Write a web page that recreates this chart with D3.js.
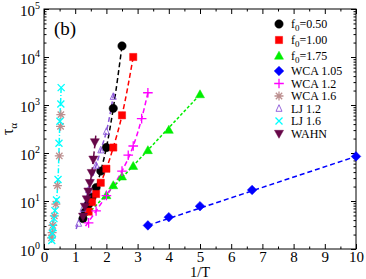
<!DOCTYPE html>
<html>
<head>
<meta charset="utf-8">
<script src="https://cdn.jsdelivr.net/npm/d3@7"></script>
<style>
body { margin: 0; background: #fff; }
svg { display: block; font-family: "Liberation Serif", "Times New Roman", serif; }
</style>
</head>
<body>
<svg id="chart" width="366" height="279"></svg>
<script>
// tick values
var xMajor = [0, 1, 2, 3, 4, 5, 6, 7, 8, 9, 10];
var xMinor = [0.5, 1.5, 2.5, 3.5, 4.5, 5.5, 6.5, 7.5, 8.5, 9.5];
var yMajor = [1, 10, 100, 1000, 10000, 100000];

// data: [1/T, tau_alpha]
var f050 = [[1.25, 4.3], [1.33, 6], [1.43, 8.5], [1.54, 12], [1.67, 19], [1.82, 42], [2.0, 130], [2.22, 850], [2.5, 17000]];
var f100 = [[1.43, 6], [1.54, 9.5], [1.67, 14], [1.82, 24], [2.0, 47], [2.22, 130], [2.5, 610], [2.86, 10000]];
var f175 = [[2.0, 13], [2.22, 21], [2.5, 32], [2.86, 53], [3.33, 113], [4.0, 300], [5.0, 1650]];
var wca105 = [[3.33, 3.1], [4.0, 4.6], [5.0, 7.8], [6.67, 17], [10, 85]];
var wca12 = [[1.43, 3.5], [1.67, 6.2], [2.0, 13], [2.5, 42], [2.7, 90], [2.86, 140], [3.13, 520], [3.33, 1800]];
var wca16 = [[0.24, 1.7], [0.26, 2.2], [0.28, 3.1], [0.33, 4.9], [0.38, 8.6], [0.43, 21], [0.49, 87], [0.53, 360], [0.54, 630]];
var lj12 = [[1.11, 3.4], [1.25, 7], [1.43, 17], [1.67, 55], [1.82, 115], [2.0, 280], [2.22, 1500]];
var lj16 = [[0.25, 1.5], [0.27, 2.1], [0.29, 2.8], [0.32, 4.3], [0.35, 6.3], [0.4, 10.5], [0.45, 28], [0.48, 160], [0.51, 460], [0.54, 1050], [0.55, 2300]];
var wahn = [[1.25, 4.8], [1.31, 7.7], [1.37, 11], [1.42, 16], [1.47, 24], [1.53, 39], [1.58, 74], [1.63, 170]];

// fitted curves (dashed lines)
var fit050 = [[1.2, 3.7], [1.43, 8.5], [1.67, 19], [1.82, 42], [2.0, 130], [2.22, 850], [2.5, 17000]];
var fit100 = [[1.38, 5.2], [1.67, 14], [1.82, 24], [2.0, 47], [2.22, 130], [2.5, 610], [2.86, 10000]];
var fit175 = [[1.3, 4.5], [5.0, 1650]];
var fit105 = [[3.33, 3.1], [10, 85]];
var fit12 = [[1.33, 3], [1.67, 6.2], [2.0, 13], [2.5, 42], [2.86, 140], [3.13, 520], [3.33, 1800]];
var fitLj12 = [[1.03, 2.6], [1.43, 17], [1.82, 115], [2.0, 280], [2.25, 2000]];
var fitLj16 = [[0.24, 1.35], [0.35, 6.3], [0.45, 28], [0.5, 300], [0.55, 2300]];
var fitWahn = [[1.22, 4.2], [1.37, 11], [1.53, 39], [1.66, 230]];

var legendLabels = ["f_0=0.50", "f_0=1.00", "f_0=1.75", "WCA 1.05", "WCA 1.2", "WCA 1.6", "LJ 1.2", "LJ 1.6", "WAHN"];

var series = [
    {pts: f050, fit: fit050, c: "#000000", s: "circle", dash: "5,3"},
    {pts: f100, fit: fit100, c: "#ff0000", s: "square", dash: "5,3"},
    {pts: f175, fit: fit175, c: "#00ee00", s: "triangle", dash: "3,2"},
    {pts: wca105, fit: fit105, c: "#0000ff", s: "diamond", dash: "5,3"},
    {pts: wca12, fit: fit12, c: "#ff00ff", s: "plus", dash: "5,3"},
    {pts: wca16, fit: null, c: "#bc8f8f", s: "star", dash: "5,3"},
    {pts: lj12, fit: fitLj12, c: "#8a55d8", s: "opentri", dash: "5,3"},
    {pts: lj16, fit: fitLj16, c: "#00ffff", s: "cross", dash: "5,2,1,2"},
    {pts: wahn, fit: fitWahn, c: "#670748", s: "tridown", dash: "5,3"}
];

var L = 44, R = 356, T = 9, B = 249;

var svg = d3.select("#chart");
var x = d3.scaleLinear().domain([0, 10]).range([L, R]);
var y = d3.scaleLog().domain([1, 100000]).range([B, T]);

function symPath(s) {
    if (s == "circle") return d3.symbol(d3.symbolCircle, 55)();
    if (s == "square") return "M-3.6,-3.6H3.6V3.6H-3.6Z";
    if (s == "triangle") return "M0,-4.8L4.5,3.2L-4.5,3.2Z";
    if (s == "opentri") return "M0,-3.8L3,2.8L-3,2.8Z";
    if (s == "tridown") return "M0,4.8L4.5,-3.2L-4.5,-3.2Z";
    if (s == "diamond") return "M0,-4.8L4.8,0L0,4.8L-4.8,0Z";
    if (s == "plus") return "M-4.8,0H4.8M0,-4.8V4.8";
    if (s == "cross") return "M-3.5,-3.5L3.5,3.5M3.5,-3.5L-3.5,3.5";
    if (s == "star") return "M-4.5,0H4.5M0,-4.5V4.5M-3.2,-3.2L3.2,3.2M3.2,-3.2L-3.2,3.2";
    return "";
}
function isFilled(s) {
    return s == "circle" || s == "square" || s == "triangle" || s == "diamond" || s == "tridown";
}
function strokeW(s) {
    if (isFilled(s)) return 0.5;
    return s == "opentri" ? 0.9 : 1.3;
}

// axes, ticks pointing inward
svg.append("g").attr("transform", "translate(0," + B + ")")
    .call(d3.axisBottom(x).tickValues(xMajor).tickSize(-5).tickPadding(2).tickFormat(d3.format("d")));
svg.append("g").attr("transform", "translate(0," + B + ")")
    .call(d3.axisBottom(x).tickValues(xMinor).tickSize(-2.5).tickFormat(""));
svg.append("g").attr("transform", "translate(0," + T + ")")
    .call(d3.axisTop(x).tickValues(xMajor).tickSize(-5).tickFormat(""));
svg.append("g").attr("transform", "translate(0," + T + ")")
    .call(d3.axisTop(x).tickValues(xMinor).tickSize(-2.5).tickFormat(""));

var yMinor = [];
for (var k = 0; k < 5; k++) {
    for (var m = 2; m < 10; m++) yMinor.push(m * Math.pow(10, k));
}

var yl = svg.append("g").attr("transform", "translate(" + L + ",0)")
    .call(d3.axisLeft(y).tickValues(yMajor).tickSize(-5).tickPadding(4).tickFormat(""));
svg.append("g").attr("transform", "translate(" + L + ",0)")
    .call(d3.axisLeft(y).tickValues(yMinor).tickSize(-2.5).tickFormat(""));
svg.append("g").attr("transform", "translate(" + R + ",0)")
    .call(d3.axisRight(y).tickValues(yMajor).tickSize(-5).tickFormat(""));
svg.append("g").attr("transform", "translate(" + R + ",0)")
    .call(d3.axisRight(y).tickValues(yMinor).tickSize(-2.5).tickFormat(""));

svg.selectAll(".domain").remove();
svg.selectAll(".tick line").attr("stroke", "#000").attr("stroke-width", 1);
svg.selectAll(".tick text").attr("font-family", "Liberation Serif, serif").attr("font-size", 15).attr("fill", "#000");

// 10^k labels
yl.selectAll(".tick text").each(function (d) {
    var t = d3.select(this).attr("dy", "0.4em");
    t.append("tspan").text("10");
    t.append("tspan").attr("font-size", 10).attr("dy", "-0.7em").text(Math.round(Math.log10(d)));
});

svg.append("rect").attr("x", L).attr("y", T).attr("width", R - L).attr("height", B - T)
    .attr("fill", "none").attr("stroke", "#000").attr("stroke-width", 1);

// fitted lines
var line = d3.line().x(function (d) { return x(d[0]); }).y(function (d) { return y(d[1]); })
    .curve(d3.curveMonotoneX);

var plot = svg.append("g");
series.forEach(function (s) {
    if (!s.fit) return;
    plot.append("path").attr("d", line(s.fit)).attr("fill", "none")
        .attr("stroke", s.c).attr("stroke-width", 1.5).attr("stroke-dasharray", s.dash);
});

// markers
series.forEach(function (s) {
    plot.selectAll(null).data(s.pts).enter().append("path")
        .attr("transform", function (d) { return "translate(" + x(d[0]) + "," + y(d[1]) + ")"; })
        .attr("d", symPath(s.s))
        .attr("fill", isFilled(s.s) ? s.c : "none")
        .attr("stroke", s.c)
        .attr("stroke-width", strokeW(s.s));
});

// legend
var legY = [24, 40, 56, 71, 83.5, 96, 108.5, 121, 133.5];
var leg = svg.append("g");
series.forEach(function (s, i) {
    leg.append("path").attr("transform", "translate(279," + legY[i] + ")")
        .attr("d", symPath(s.s))
        .attr("fill", isFilled(s.s) ? s.c : "none")
        .attr("stroke", s.c)
        .attr("stroke-width", strokeW(s.s));
    var lab = legendLabels[i];
    var t = leg.append("text").attr("x", 291).attr("y", legY[i] + 4).attr("font-size", 12);
    if (lab.indexOf("_") > -1) {
        var parts = lab.split("_");
        t.append("tspan").text(parts[0]);
        t.append("tspan").attr("font-size", 9).attr("dy", 3).text(parts[1].charAt(0));
        t.append("tspan").attr("dy", -3).text(parts[1].slice(1));
    } else {
        t.text(lab);
    }
});

svg.append("text").attr("x", 54).attr("y", 35).attr("font-size", 19).text("(b)");

svg.append("text").attr("x", (L + R) / 2).attr("y", 277).attr("text-anchor", "middle")
    .attr("font-size", 14.5).text("1/T");

var yt = svg.append("text").attr("transform", "translate(13," + ((T + B) / 2) + ") rotate(-90)")
    .attr("text-anchor", "middle").attr("font-size", 16);
yt.append("tspan").text("τ");
yt.append("tspan").attr("font-size", 11).attr("dy", 4).text("α");
</script>
</body>
</html>
